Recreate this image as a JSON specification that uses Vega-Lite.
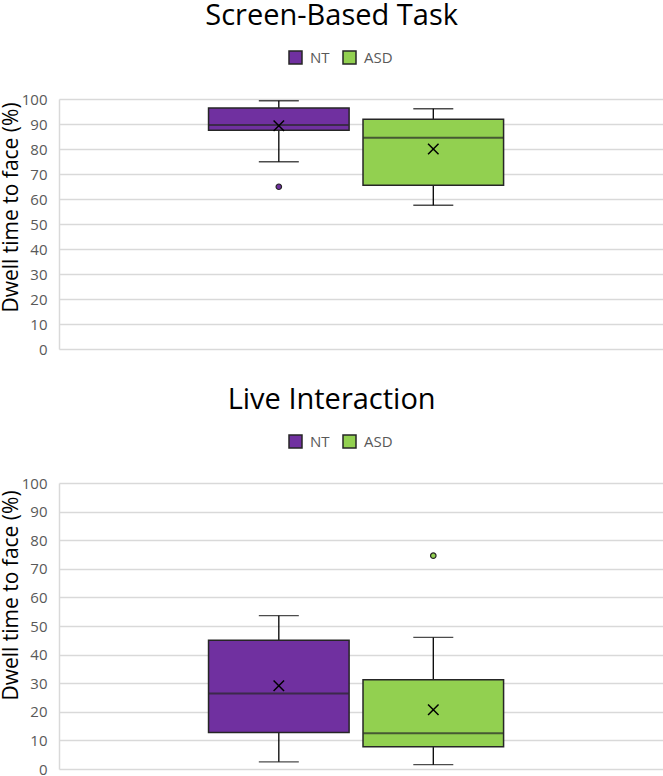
{
  "$schema": "https://vega.github.io/schema/vega-lite/v6.json",
  "padding": {"left": 0, "top": 2, "right": 0, "bottom": 0},
  "background": "white",
  "datasets": {
    "stats": [
      {"task": "Screen-Based Task", "group": "NT", "lower": 74.9, "q1": 87.5, "median": 89.6, "q3": 96.4, "upper": 99.3, "mean": 89.3},
      {"task": "Screen-Based Task", "group": "ASD", "lower": 57.5, "q1": 65.5, "median": 84.5, "q3": 91.9, "upper": 96.1, "mean": 80.0},
      {"task": "Live Interaction", "group": "NT", "lower": 2.5, "q1": 12.8, "median": 26.4, "q3": 45.0, "upper": 53.6, "mean": 29.1},
      {"task": "Live Interaction", "group": "ASD", "lower": 1.5, "q1": 7.8, "median": 12.5, "q3": 31.2, "upper": 46.0, "mean": 20.7}
    ],
    "outliers": [
      {"task": "Screen-Based Task", "group": "NT", "value": 64.9},
      {"task": "Live Interaction", "group": "ASD", "value": 74.6}
    ]
  },
  "config": {
    "font": "Open Sans",
    "view": {"stroke": null},
    "axisY": {"labelFont": "Open Sans", "titleFont": "Open Sans", "ticks": false, "domainColor": "#d9d9d9", "domainWidth": 1.5, "gridColor": "#d9d9d9", "gridWidth": 1.5,
              "labelColor": "#595959", "labelFontSize": 15, "labelPadding": 12, "titleFontSize": 21, "titleFontWeight": "normal", "titleColor": "#000000", "titlePadding": 0, "labelOverlap": false},
    "legend": {"labelFont": "Open Sans", "title": null, "orient": "none", "direction": "horizontal", "symbolType": "square", "symbolSize": 169, "symbolStrokeColor": "#262626", "symbolStrokeWidth": 1.5, "labelFontSize": 15, "labelColor": "#595959", "columnPadding": 10, "labelOffset": 7, "legendX": 229, "legendY": -49},
    "title": {"fontSize": 29, "fontWeight": "normal", "color": "#000000", "anchor": "middle", "frame": "bounds", "baseline": "alphabetic", "offset": 19}
  },
  "resolve": {"legend": {"color": "independent"}},
  "spacing": 29,
  "vconcat": [
    {
      "title": {"text": "Screen-Based Task"},
      "width": 604,
      "height": 250,
      "data": {"name": "stats"},
      "transform": [{"filter": "datum.task === 'Screen-Based Task'"}],
      "encoding": {
        "x": {"field": "group", "type": "nominal", "sort": ["NT", "ASD"], "axis": null,
              "scale": {"domain": ["NT", "ASD"], "paddingInner": 0.09, "paddingOuter": 1.0, "align": 0.484}}
      },
      "layer": [
        {
          "mark": {"type": "rule", "color": "#000000", "strokeWidth": 1.3},
          "encoding": {
            "y": {"field": "lower", "type": "quantitative", "scale": {"domain": [0, 100], "nice": false},
                  "axis": {"values": [0,10,20,30,40,50,60,70,80,90,100], "title": "Dwell time to face (%)", "titleY": 108}},
            "y2": {"field": "upper"}
          }
        },
        {
          "mark": {"type": "tick", "color": "#000000", "size": 40, "thickness": 1.3},
          "encoding": {"y": {"field": "lower", "type": "quantitative", "axis": {"values": [0,10,20,30,40,50,60,70,80,90,100], "title": "Dwell time to face (%)", "titleY": 108}}}
        },
        {
          "mark": {"type": "tick", "color": "#000000", "size": 40, "thickness": 1.3},
          "encoding": {"y": {"field": "upper", "type": "quantitative", "axis": {"values": [0,10,20,30,40,50,60,70,80,90,100], "title": "Dwell time to face (%)", "titleY": 108}}}
        },
        {
          "mark": {"type": "bar", "stroke": "#262626", "strokeWidth": 1.5},
          "encoding": {
            "y": {"field": "q1", "type": "quantitative", "axis": {"values": [0,10,20,30,40,50,60,70,80,90,100], "title": "Dwell time to face (%)", "titleY": 108}},
            "y2": {"field": "q3"},
            "color": {"field": "group", "type": "nominal",
                      "scale": {"domain": ["NT", "ASD"], "range": ["#7030A0", "#92D050"]}}
          }
        },
        {
          "mark": {"type": "tick", "color": "#262626", "size": 140, "thickness": 2},
          "encoding": {"y": {"field": "median", "type": "quantitative", "axis": {"values": [0,10,20,30,40,50,60,70,80,90,100], "title": "Dwell time to face (%)", "titleY": 108}}}
        },
        {
          "mark": {"type": "point", "shape": "M-1,-1L1,1M1,-1L-1,1", "size": 110, "stroke": "#000000", "strokeWidth": 1.5, "filled": false, "opacity": 1},
          "encoding": {"y": {"field": "mean", "type": "quantitative", "axis": {"values": [0,10,20,30,40,50,60,70,80,90,100], "title": "Dwell time to face (%)", "titleY": 108}}}
        },
        {
          "data": {"name": "outliers"},
          "transform": [{"filter": "datum.task === 'Screen-Based Task'"}],
          "mark": {"type": "point", "shape": "circle", "size": 30, "stroke": "#262626", "strokeWidth": 1.2, "filled": true, "opacity": 1},
          "encoding": {
            "x": {"field": "group", "type": "nominal"},
            "y": {"field": "value", "type": "quantitative", "axis": {"values": [0,10,20,30,40,50,60,70,80,90,100], "title": "Dwell time to face (%)", "titleY": 108}},
            "fill": {"field": "group", "type": "nominal", "scale": {"domain": ["NT", "ASD"], "range": ["#7030A0", "#92D050"]}, "legend": null}
          }
        }
      ]
    },
    {
      "title": {"text": "Live Interaction"},
      "width": 604,
      "height": 286,
      "data": {"name": "stats"},
      "transform": [{"filter": "datum.task === 'Live Interaction'"}],
      "encoding": {
        "x": {"field": "group", "type": "nominal", "sort": ["NT", "ASD"], "axis": null,
              "scale": {"domain": ["NT", "ASD"], "paddingInner": 0.09, "paddingOuter": 1.0, "align": 0.484}}
      },
      "layer": [
        {
          "mark": {"type": "rule", "color": "#000000", "strokeWidth": 1.3},
          "encoding": {
            "y": {"field": "lower", "type": "quantitative", "scale": {"domain": [0, 100], "nice": false},
                  "axis": {"values": [0,10,20,30,40,50,60,70,80,90,100], "title": "Dwell time to face (%)", "titleY": 112}},
            "y2": {"field": "upper"}
          }
        },
        {
          "mark": {"type": "tick", "color": "#000000", "size": 40, "thickness": 1.3},
          "encoding": {"y": {"field": "lower", "type": "quantitative", "axis": {"values": [0,10,20,30,40,50,60,70,80,90,100], "title": "Dwell time to face (%)", "titleY": 112}}}
        },
        {
          "mark": {"type": "tick", "color": "#000000", "size": 40, "thickness": 1.3},
          "encoding": {"y": {"field": "upper", "type": "quantitative", "axis": {"values": [0,10,20,30,40,50,60,70,80,90,100], "title": "Dwell time to face (%)", "titleY": 112}}}
        },
        {
          "mark": {"type": "bar", "stroke": "#262626", "strokeWidth": 1.5},
          "encoding": {
            "y": {"field": "q1", "type": "quantitative", "axis": {"values": [0,10,20,30,40,50,60,70,80,90,100], "title": "Dwell time to face (%)", "titleY": 112}},
            "y2": {"field": "q3"},
            "color": {"field": "group", "type": "nominal",
                      "scale": {"domain": ["NT", "ASD"], "range": ["#7030A0", "#92D050"]}}
          }
        },
        {
          "mark": {"type": "tick", "color": "#262626", "size": 140, "thickness": 2},
          "encoding": {"y": {"field": "median", "type": "quantitative", "axis": {"values": [0,10,20,30,40,50,60,70,80,90,100], "title": "Dwell time to face (%)", "titleY": 112}}}
        },
        {
          "mark": {"type": "point", "shape": "M-1,-1L1,1M1,-1L-1,1", "size": 110, "stroke": "#000000", "strokeWidth": 1.5, "filled": false, "opacity": 1},
          "encoding": {"y": {"field": "mean", "type": "quantitative", "axis": {"values": [0,10,20,30,40,50,60,70,80,90,100], "title": "Dwell time to face (%)", "titleY": 112}}}
        },
        {
          "data": {"name": "outliers"},
          "transform": [{"filter": "datum.task === 'Live Interaction'"}],
          "mark": {"type": "point", "shape": "circle", "size": 30, "stroke": "#262626", "strokeWidth": 1.2, "filled": true, "opacity": 1},
          "encoding": {
            "x": {"field": "group", "type": "nominal"},
            "y": {"field": "value", "type": "quantitative", "axis": {"values": [0,10,20,30,40,50,60,70,80,90,100], "title": "Dwell time to face (%)", "titleY": 112}},
            "fill": {"field": "group", "type": "nominal", "scale": {"domain": ["NT", "ASD"], "range": ["#7030A0", "#92D050"]}, "legend": null}
          }
        }
      ]
    }
  ]
}
